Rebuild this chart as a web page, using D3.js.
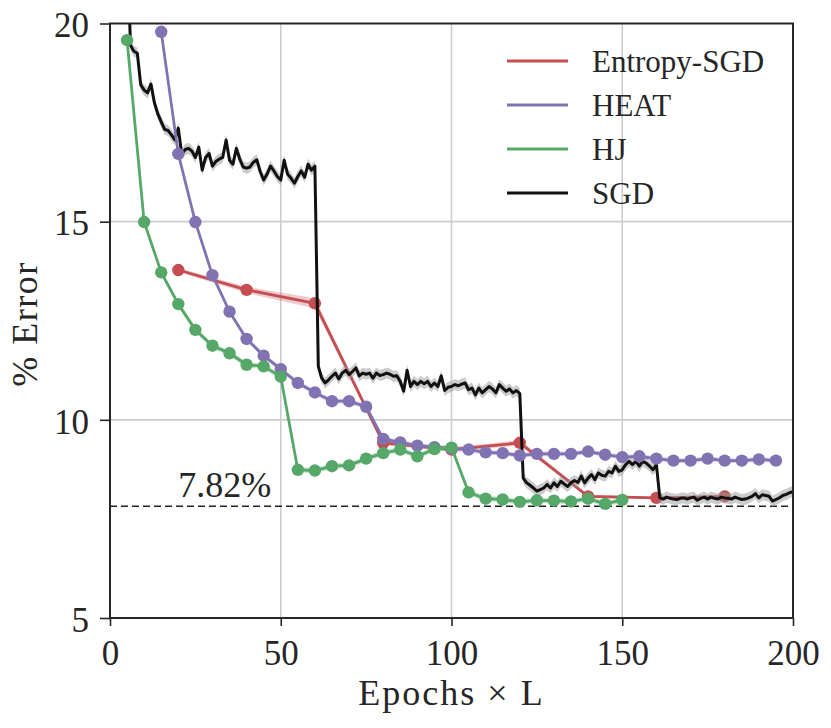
<!DOCTYPE html>
<html><head><meta charset="utf-8">
<script src="https://cdn.jsdelivr.net/npm/d3@7"></script>
<style>body{margin:0;background:#fff}</style>
</head><body><svg id="c" width="831" height="728"></svg>
<script>
// ---------- data ----------
const seriesNames = ["Entropy-SGD", "HEAT", "HJ", "SGD"];
const seriesColors = ["#c44e52", "#8172b2", "#55a868", "#111111"];

const entropyEpochs = [20, 40, 60, 80, 100, 120, 140, 160, 180];
const entropyErr    = [13.78, 13.28, 12.94, 9.42, 9.25, 9.42, 8.07, 8.03, 8.07];
const entropyStd    = [0.05, 0.08, 0.13, 0.06, 0.05, 0.07, 0.04, 0.03, 0.03];

const heatEpochs = [15,20,25,30,35,40,45,50,55,60,65,70,75,80,85,90,95,100,105,110,115,120,125,130,135,140,145,150,155,160,165,170,175,180,185,190,195];
const heatErr    = [19.79,16.71,14.99,13.65,12.73,12.04,11.62,11.28,10.93,10.69,10.47,10.47,10.33,9.52,9.43,9.35,9.31,9.28,9.25,9.18,9.16,9.10,9.14,9.14,9.14,9.20,9.12,9.06,9.08,9.02,8.97,8.97,9.02,8.97,8.97,9.00,8.97];

const hjEpochs = [5,10,15,20,25,30,35,40,45,50,55,60,65,70,75,80,85,90,95,100,105,110,115,120,125,130,135,140,145,150];
const hjErr    = [19.58,14.99,13.72,12.92,12.27,11.87,11.68,11.39,11.35,11.09,8.74,8.72,8.83,8.85,9.02,9.16,9.25,9.08,9.26,9.30,8.17,8.01,7.99,7.93,7.97,7.96,7.94,8.01,7.88,7.98];

const sgdFirstEpoch = 5;
const sgdErr = [
 22.0,19.45,19.30,19.25,18.45,18.32,18.25,18.47,18.00,17.72,
 17.52,17.33,17.30,17.19,17.06,17.36,16.70,16.82,16.85,16.78,
 16.62,16.88,16.30,16.62,16.72,16.40,16.52,16.58,16.62,17.06,
 16.55,16.45,16.85,16.58,16.38,16.35,16.38,16.50,16.56,16.26,
 16.05,16.20,16.40,16.28,16.14,16.05,16.55,16.20,16.10,15.97,
 16.14,16.28,16.12,16.45,16.30,16.40,11.35,11.05,10.93,11.01,
 11.10,11.18,11.03,11.18,11.25,11.14,11.22,11.31,11.11,11.18,
 11.15,11.18,11.05,11.18,11.12,11.14,11.18,11.15,11.10,11.11,
 10.97,10.72,11.25,10.84,10.97,10.89,10.97,10.91,10.97,10.84,
 10.93,10.84,11.11,10.74,10.82,10.84,10.89,10.86,10.90,10.93,
 10.76,10.80,10.63,10.80,10.68,10.76,10.84,10.78,10.68,10.89,
 10.80,10.72,10.78,10.68,10.74,10.66,8.53,8.41,8.35,8.28,
 8.20,8.24,8.28,8.37,8.28,8.41,8.32,8.45,8.38,8.32,
 8.41,8.47,8.42,8.58,8.41,8.53,8.62,8.49,8.66,8.60,
 8.58,8.70,8.66,8.83,8.70,8.74,8.87,8.95,8.87,8.95,
 8.83,8.95,8.91,8.83,8.74,8.87,8.03,8.00,8.05,8.02,
 8.00,7.99,8.02,8.03,8.00,8.03,8.05,7.97,8.02,8.05,
 8.00,8.05,8.02,8.00,8.05,8.03,8.02,8.00,8.05,8.02,
 7.99,8.00,8.03,8.07,8.14,8.03,8.11,8.09,8.07,7.95,
 7.99,8.03,8.09,8.12,8.16,8.19];
const sgdStd = 0.14;
const heatStd = 0.06;
const hjStd = 0.07;

const xTicks = [0, 50, 100, 150, 200];
const yTicks = [5, 10, 15, 20];
const baselineValue = 7.82;
const baselineLabel = "7.82%";
const xLabel = "Epochs \u00d7 L";
const yLabel = "% Error";

// ---------- layout ----------
const FONT = '"Liberation Serif", "Times New Roman", serif';
const INK = "#262626";
const W = 831, H = 728;
const m = {l:110, r:38, t:23.5, b:110};
const iw = W - m.l - m.r, ih = H - m.t - m.b;
const svg = d3.select("#c");
const g = svg.append("g").attr("transform", `translate(${m.l},${m.t})`);
const x = d3.scaleLinear().domain([0, 200]).range([0, iw]);
const y = d3.scaleLinear().domain([5, 20]).range([ih, 0]);

function txt(sel, size){ return sel.style("font-family", FONT).style("font-size", size+"px").style("fill", INK); }

svg.append("defs").append("clipPath").attr("id","clip")
  .append("rect").attr("x",0).attr("y",0).attr("width",iw).attr("height",ih);

// grid
g.append("g").selectAll("line").data(xTicks.slice(1,-1)).join("line")
  .attr("x1", d=>x(d)).attr("x2", d=>x(d)).attr("y1",0).attr("y2",ih)
  .attr("stroke","#cccccc").attr("stroke-width",1.6);
g.append("g").selectAll("line").data(yTicks.slice(1,-1)).join("line")
  .attr("y1", d=>y(d)).attr("y2", d=>y(d)).attr("x1",0).attr("x2",iw)
  .attr("stroke","#cccccc").attr("stroke-width",1.6);

// baseline
g.append("line").attr("x1",0).attr("x2",iw).attr("y1",y(baselineValue)).attr("y2",y(baselineValue))
  .attr("stroke","#222").attr("stroke-width",1.5).attr("stroke-dasharray","7,4");
txt(g.append("text").attr("x", x(20)).attr("y", y(baselineValue)-9), 36).text(baselineLabel);

// series
const plot = g.append("g").attr("clip-path","url(#clip)");
function pts(ex, ey, sd){ return ex.map((e,i)=>({x:e, y:ey[i], s: Array.isArray(sd)? sd[i] : sd})); }
const entropyPts = pts(entropyEpochs, entropyErr, entropyStd);
const heatPts = pts(heatEpochs, heatErr, heatStd);
const hjPts = pts(hjEpochs, hjErr, hjStd);
const sgdPts = sgdErr.map((v,i)=>({x: sgdFirstEpoch+i, y: v, s: sgdStd}));

const line = d3.line().x(d=>x(d.x)).y(d=>y(d.y));
const area = d3.area().x(d=>x(d.x)).y0(d=>y(d.y-d.s)).y1(d=>y(d.y+d.s));

function drawSeries(data, color, bandColor, bandOpacity, markers){
  plot.append("path").datum(data).attr("d", area).attr("fill", bandColor).attr("opacity", bandOpacity);
  plot.append("path").datum(data).attr("d", line).attr("fill","none")
    .attr("stroke", color).attr("stroke-width", markers?2.8:3).attr("stroke-linejoin","round");
  if (markers) {
    plot.append("g").selectAll("circle").data(data).join("circle")
      .attr("cx", d=>x(d.x)).attr("cy", d=>y(d.y)).attr("r", 6.2).attr("fill", color);
  }
}
drawSeries(entropyPts, seriesColors[0], seriesColors[0], 0.3, true);
drawSeries(sgdPts, seriesColors[3], "#9a9a9a", 0.5, false);
drawSeries(heatPts, seriesColors[1], seriesColors[1], 0.3, true);
drawSeries(hjPts, seriesColors[2], seriesColors[2], 0.3, true);

// axes frame
g.append("rect").attr("x",0).attr("y",0).attr("width",iw).attr("height",ih)
  .attr("fill","none").attr("stroke",INK).attr("stroke-width",2);

// ticks
const xa = g.append("g").attr("transform",`translate(0,${ih})`)
  .call(d3.axisBottom(x).tickValues(xTicks).tickSize(8).tickPadding(14).tickFormat(d3.format("d")));
const ya = g.append("g")
  .call(d3.axisLeft(y).tickValues(yTicks).tickSize(10).tickPadding(11).tickFormat(d3.format("d")));
[xa, ya].forEach(a=>{
  a.select(".domain").remove();
  a.selectAll(".tick line").attr("stroke",INK).attr("stroke-width",1.6);
  txt(a.selectAll(".tick text"), 35);
});
ya.selectAll(".tick text").attr("dy","0.38em");

// axis labels
txt(svg.append("text").attr("x", m.l + iw/2).attr("y", 705).attr("text-anchor","middle"), 36)
  .style("letter-spacing","2px").text(xLabel);
txt(svg.append("text").attr("transform",`translate(37,324) rotate(-90)`).attr("text-anchor","middle"), 36)
  .style("letter-spacing","1.5px").text(yLabel);

// legend
const lg = svg.append("g");
seriesNames.forEach((n,i)=>{
  const yy = 61 + i*44;
  lg.append("line").attr("x1",507).attr("x2",568).attr("y1",yy).attr("y2",yy)
    .attr("stroke", seriesColors[i]).attr("stroke-width",2.8);
  txt(lg.append("text").attr("x",592).attr("y",yy+10.5), 31).text(n);
});
</script></body></html>
